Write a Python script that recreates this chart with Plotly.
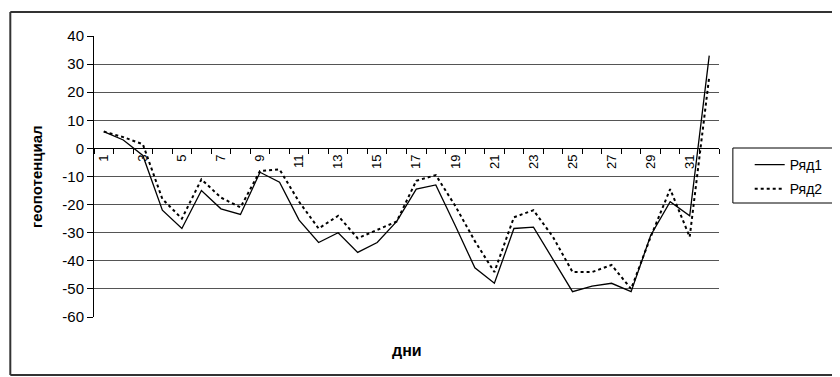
import plotly.graph_objects as go

days = list(range(1, 33))
ryad1 = [6, 3, -2.5, -22, -28.5, -15, -21.5, -23.5, -8.5, -12, -25.5, -33.5, -30, -37, -33.5, -26,
         -14.5, -13, -27.5, -42.5, -48, -28.5, -28, -39.5, -51, -49, -48, -51, -31, -19, -24, 33]
ryad2 = [6, 4, 1.5, -18, -25, -11, -17.5, -21, -8, -7.5, -19, -28.5, -24, -32, -29, -26,
         -11.5, -9.5, -20.5, -33, -44, -24.5, -22, -31.5, -44, -44, -41.5, -50, -31.5, -14.5, -31.5, 25.5]
x_tickvals = list(range(1, 33, 2))
x_ticktext = [str(v) for v in x_tickvals]
y_tickvals = [40, 30, 20, 10, 0, -10, -20, -30, -40, -50, -60]
y_ticktext = [str(v) for v in y_tickvals]

FONT = "Liberation Sans, Arial, sans-serif"

fig = go.Figure()
fig.add_trace(go.Scatter(x=days, y=ryad1, mode="lines", name="Ряд1", legendgroup="a",
                         line=dict(color="black", width=1.3)))
fig.add_trace(go.Scatter(x=days, y=ryad2, mode="lines", name="Ряд2", legendgroup="b",
                         line=dict(color="black", width=2, dash="dot")))

# the page body has an 8px margin; figure coordinates = screen - 8
OFF = 8
W, H = 840 - OFF, 377 - OFF
PL, PR, PT, PB = 94, 725, 36, 317   # plot area in screen pixels
L, R, T, B = PL - OFF, W - (PR - OFF), PT - OFF, H - (PB - OFF)
pw, ph = PR - PL, PB - PT


def px(xs):
    return (xs - PL) / pw


def py(ys):
    return (PB - ys) / ph


frame = dict(xref="paper", yref="paper", line=dict(color="#333333", width=2), layer="above")

fig.update_layout(
    width=W, height=H, autosize=False,
    margin=dict(l=L, r=R, t=T, b=B, pad=0),
    paper_bgcolor="white", plot_bgcolor="white",
    font=dict(family=FONT, size=13, color="black"),
    showlegend=True,
    legend=dict(x=px(756), y=py(149), xanchor="left", yanchor="top",
                borderwidth=0, bgcolor="rgba(0,0,0,0)", tracegroupgap=3,
                font=dict(size=14)),
    xaxis=dict(range=[0.5, 32.5], anchor="free", position=0.6,
               tickmode="array", tickvals=x_tickvals, ticktext=x_ticktext,
               ticks="", tickangle=-90, showgrid=False, zeroline=False,
               showline=True, linecolor="black", linewidth=1,
               tickfont=dict(size=13),
               minor=dict(tick0=0.5, dtick=1, ticks="outside", ticklen=5,
                          tickcolor="black", tickwidth=1, showgrid=False)),
    yaxis=dict(range=[-60, 40], tickmode="array", tickvals=y_tickvals, ticktext=y_ticktext,
               ticks="outside", ticklen=6, tickcolor="black",
               showgrid=True, gridcolor="#555555", gridwidth=1, zeroline=False,
               showline=True, linecolor="black", linewidth=1,
               tickfont=dict(size=15)),
    shapes=[
        dict(type="line", x0=px(9.5), x1=px(870), y0=py(12), y1=py(12), **frame),
        dict(type="line", x0=px(9.5), x1=px(870), y0=py(375), y1=py(375), **frame),
        dict(type="line", x0=px(9.5), x1=px(9.5), y0=py(375), y1=py(12), **frame),
        dict(type="rect", xref="paper", yref="paper",
             x0=px(739), x1=px(870), y0=py(203), y1=py(148),
             line=dict(color="black", width=1), fillcolor="rgba(0,0,0,0)", layer="above"),
    ],
    annotations=[
        dict(text="<b>дни</b>", xref="paper", yref="paper", x=0.5, y=py(350),
             xanchor="center", yanchor="middle", showarrow=False, font=dict(size=16)),
        dict(text="<b>геопотенциал</b>", xref="paper", yref="paper", x=px(36), y=0.5,
             xanchor="center", yanchor="middle", textangle=-90, showarrow=False,
             font=dict(size=15)),
    ],
)

fig.write_html("out.html")
